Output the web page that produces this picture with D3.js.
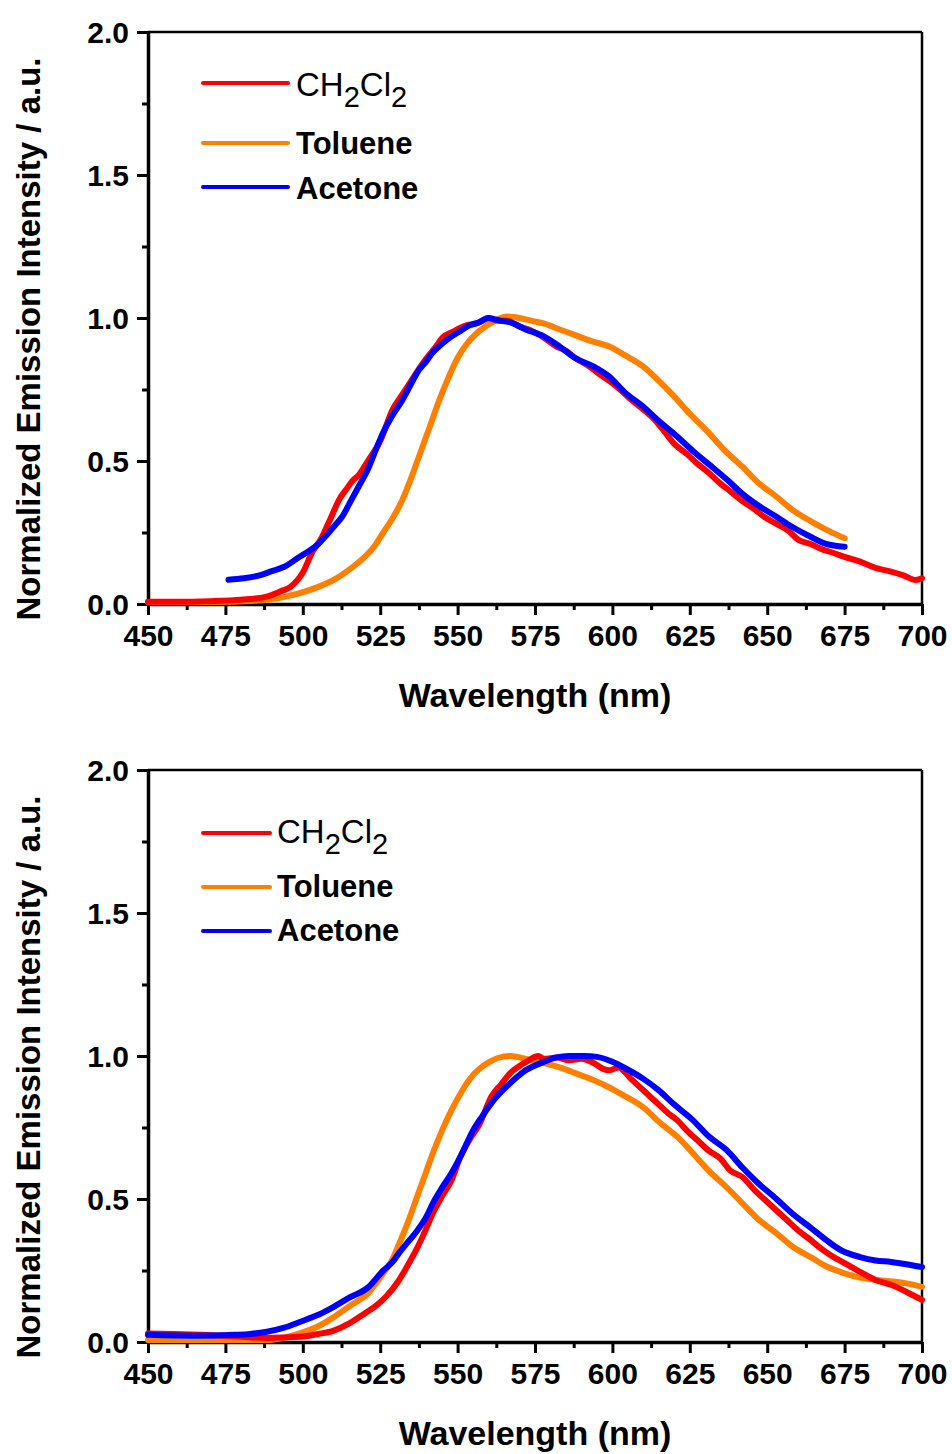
<!DOCTYPE html>
<html>
<head>
<meta charset="utf-8">
<script src="https://cdn.jsdelivr.net/npm/d3@7"></script>
<style>
  body { margin: 0; background: #fff; }
  svg { display: block; }
</style>
</head>
<body>
<svg id="chart" width="952" height="1454"></svg>
<script>
// wavelength (nm), normalized intensity
const topCH2Cl2 = [[450,0.008],[460,0.008],[470,0.01],[480,0.015],[488,0.025],[493,0.045],[496,0.06],[500,0.11],[503,0.18],[506,0.23],[509,0.30],[512,0.37],[514,0.40],[516,0.43],[518,0.45],[521,0.50],[525,0.57],[529,0.68],[532,0.73],[535,0.78],[538,0.83],[540,0.86],[543,0.90],[545,0.93],[549,0.955],[553,0.975],[556,0.98],[560,1.0],[563,0.99],[566,0.99],[570,0.97],[574,0.955],[578,0.93],[582,0.90],[585,0.885],[588,0.86],[592,0.835],[595,0.81],[599,0.78],[603,0.745],[606,0.715],[610,0.68],[614,0.64],[617,0.6],[620,0.56],[624,0.525],[627,0.495],[631,0.46],[635,0.42],[638,0.395],[642,0.36],[646,0.33],[649,0.305],[653,0.28],[657,0.255],[660,0.225],[664,0.21],[668,0.19],[671,0.18],[675,0.165],[680,0.148],[685,0.126],[690,0.113],[694,0.1],[698,0.084],[700,0.09]];
const topToluene = [[450,0.007],[470,0.007],[488,0.014],[494,0.025],[499,0.038],[505,0.06],[510,0.084],[515,0.12],[519,0.155],[523,0.2],[526,0.25],[529,0.3],[532,0.36],[535,0.44],[538,0.53],[541,0.62],[544,0.71],[547,0.79],[550,0.86],[553,0.91],[556,0.945],[559,0.97],[562,0.99],[566,1.005],[570,1.0],[574,0.99],[578,0.98],[583,0.96],[588,0.94],[593,0.92],[599,0.9],[604,0.87],[610,0.83],[615,0.78],[620,0.725],[625,0.665],[631,0.6],[636,0.54],[642,0.48],[647,0.425],[653,0.375],[658,0.33],[664,0.29],[670,0.255],[675,0.23]];
const topAcetone = [[476,0.085],[481,0.09],[486,0.1],[490,0.115],[494,0.13],[499,0.165],[502,0.185],[505,0.21],[510,0.27],[513,0.31],[515,0.35],[518,0.41],[521,0.47],[524,0.55],[526,0.6],[529,0.66],[532,0.71],[535,0.77],[537,0.81],[540,0.85],[542,0.88],[545,0.91],[548,0.935],[551,0.955],[554,0.975],[557,0.985],[560,1.0],[564,0.99],[567,0.985],[572,0.96],[578,0.935],[583,0.9],[588,0.86],[594,0.83],[599,0.795],[604,0.74],[610,0.69],[615,0.64],[621,0.585],[626,0.535],[631,0.49],[637,0.435],[642,0.385],[647,0.345],[653,0.305],[658,0.27],[664,0.235],[669,0.21],[675,0.2]];

const botCH2Cl2 = [[450,0.03],[458,0.028],[467,0.025],[478,0.02],[488,0.014],[499,0.018],[505,0.028],[510,0.04],[515,0.065],[520,0.1],[524,0.13],[527,0.16],[531,0.215],[534,0.27],[537,0.33],[540,0.4],[542,0.45],[545,0.51],[548,0.565],[551,0.65],[554,0.71],[557,0.76],[561,0.86],[564,0.9],[567,0.94],[570,0.965],[573,0.985],[576,1.0],[578,0.99],[582,0.995],[586,0.985],[590,0.99],[594,0.975],[597,0.955],[599,0.95],[602,0.96],[606,0.92],[610,0.88],[614,0.84],[618,0.8],[621,0.775],[624,0.74],[628,0.7],[631,0.67],[635,0.64],[638,0.6],[642,0.577],[646,0.53],[649,0.5],[653,0.46],[656,0.43],[660,0.39],[664,0.357],[667,0.33],[671,0.3],[675,0.276],[680,0.245],[685,0.217],[690,0.2],[695,0.175],[700,0.147]];
const botToluene = [[450,0.007],[470,0.007],[488,0.007],[494,0.015],[499,0.03],[505,0.055],[510,0.087],[515,0.125],[521,0.17],[526,0.24],[529,0.29],[531,0.34],[534,0.42],[537,0.51],[540,0.6],[542,0.66],[545,0.74],[548,0.81],[551,0.87],[554,0.92],[557,0.955],[560,0.978],[563,0.993],[567,1.0],[572,0.99],[578,0.975],[583,0.96],[588,0.94],[594,0.915],[599,0.89],[604,0.86],[610,0.82],[615,0.77],[621,0.717],[626,0.66],[631,0.6],[637,0.54],[642,0.485],[647,0.43],[653,0.38],[658,0.335],[664,0.297],[669,0.265],[675,0.24],[680,0.225],[685,0.217],[690,0.212],[695,0.205],[700,0.193]];
const botAcetone = [[450,0.025],[465,0.022],[478,0.025],[483,0.028],[488,0.035],[494,0.05],[499,0.07],[505,0.095],[510,0.123],[515,0.155],[521,0.19],[526,0.25],[529,0.28],[531,0.31],[534,0.35],[537,0.39],[540,0.44],[542,0.485],[545,0.54],[548,0.59],[551,0.65],[555,0.74],[558,0.79],[562,0.85],[567,0.905],[572,0.95],[578,0.98],[582,0.995],[586,1.0],[591,1.0],[595,0.997],[600,0.98],[604,0.958],[610,0.92],[615,0.88],[620,0.83],[626,0.776],[631,0.72],[637,0.67],[642,0.61],[647,0.556],[653,0.5],[658,0.45],[664,0.4],[669,0.357],[674,0.32],[680,0.297],[685,0.285],[690,0.28],[695,0.272],[700,0.262]];

const xTicks = [450, 475, 500, 525, 550, 575, 600, 625, 650, 675, 700];
const yTicks = [0.0, 0.5, 1.0, 1.5, 2.0];
const seriesNames = ["CH2Cl2", "Toluene", "Acetone"];
const colors = ["#ff0000", "#ff8000", "#0000ff"];

const panels = [
  {top: 32, bottom: 604, data: [topCH2Cl2, topToluene, topAcetone],
   legend: {x1: 203, x2: 288, tx: 296, ys: [83, 143, 187], bases: [96, 154, 199]}},
  {top: 770, bottom: 1342, data: [botCH2Cl2, botToluene, botAcetone],
   legend: {x1: 203, x2: 270, tx: 277, ys: [833, 887, 931], bases: [843, 897, 941]}}
];

const left = 148, right = 922;
const font = "'Liberation Sans', Arial, sans-serif";
const svg = d3.select("#chart");

panels.forEach(p => {
  const x = d3.scaleLinear([450, 700], [left, right]);
  const y = d3.scaleLinear([0, 2], [p.bottom, p.top]);
  const g = svg.append("g");

  // frame (top/right)
  g.append("line").attr("x1", left).attr("x2", right).attr("y1", p.top).attr("y2", p.top)
    .attr("stroke", "#000").attr("stroke-width", 2.5);
  g.append("line").attr("x1", right).attr("x2", right).attr("y1", p.top).attr("y2", p.bottom)
    .attr("stroke", "#000").attr("stroke-width", 2.5);

  // minor ticks
  const xMinor = d3.range(462.5, 700, 25);
  const yMinor = [0.25, 0.75, 1.25, 1.75];
  g.append("g").attr("transform", `translate(0,${p.bottom})`)
    .call(d3.axisBottom(x).tickValues(xMinor).tickSize(6).tickFormat(""))
    .call(a => a.select(".domain").remove())
    .selectAll("line").attr("stroke-width", 3);
  g.append("g").attr("transform", `translate(${left},0)`)
    .call(d3.axisLeft(y).tickValues(yMinor).tickSize(6).tickFormat(""))
    .call(a => a.select(".domain").remove())
    .selectAll("line").attr("stroke-width", 3);

  // major axes
  const xa = g.append("g").attr("transform", `translate(0,${p.bottom})`)
    .call(d3.axisBottom(x).tickValues(xTicks).tickSize(11).tickSizeOuter(0).tickPadding(10).tickFormat(d3.format("d")));
  const ya = g.append("g").attr("transform", `translate(${left},0)`)
    .call(d3.axisLeft(y).tickValues(yTicks).tickSize(11).tickSizeOuter(0).tickPadding(8).tickFormat(d3.format(".1f")));
  [xa, ya].forEach(a => {
    a.select(".domain").attr("stroke-width", 3.5);
    a.selectAll(".tick line").attr("stroke-width", 3);
    a.selectAll("text").attr("font-family", font).attr("font-weight", "bold")
      .attr("font-size", 30).attr("fill", "#000");
  });
  ya.selectAll("text").attr("dy", "0.36em");

  // series
  const line = d3.line().x(d => x(d[0])).y(d => y(d[1])).curve(d3.curveMonotoneX);
  const order = [1, 0, 2];
  order.forEach(i => {
    g.append("path").datum(p.data[i])
      .attr("fill", "none").attr("stroke", colors[i]).attr("stroke-width", 6)
      .attr("stroke-linejoin", "round").attr("stroke-linecap", "round")
      .attr("d", line);
  });

  // legend
  const L = p.legend;
  seriesNames.forEach((name, i) => {
    g.append("line").attr("x1", L.x1).attr("x2", L.x2).attr("y1", L.ys[i]).attr("y2", L.ys[i])
      .attr("stroke", colors[i]).attr("stroke-width", 4).attr("stroke-linecap", "round");
    const t = g.append("text").attr("x", L.tx).attr("y", L.bases[i])
      .attr("font-family", font).attr("font-size", 30).attr("fill", "#000");
    if (name === "CH2Cl2") {
      t.attr("font-size", 33);
      t.append("tspan").text("CH");
      t.append("tspan").attr("font-size", 29).attr("dy", 11).text("2");
      t.append("tspan").attr("dy", -11).text("Cl");
      t.append("tspan").attr("font-size", 29).attr("dy", 11).text("2");
    } else {
      t.attr("font-weight", "bold").attr("font-size", 31).text(name);
    }
  });

  // axis titles
  g.append("text").attr("x", (left + right) / 2).attr("y", p.bottom + 103)
    .attr("text-anchor", "middle").attr("font-family", font).attr("font-weight", "bold")
    .attr("font-size", 34).attr("fill", "#000").text("Wavelength (nm)");
  g.append("text")
    .attr("transform", `translate(40,${(p.top + p.bottom) / 2 + 21}) rotate(-90)`)
    .attr("text-anchor", "middle").attr("font-family", font).attr("font-weight", "bold")
    .attr("font-size", 33).attr("fill", "#000").text("Normalized Emission Intensity / a.u.");
});
</script>
</body>
</html>
